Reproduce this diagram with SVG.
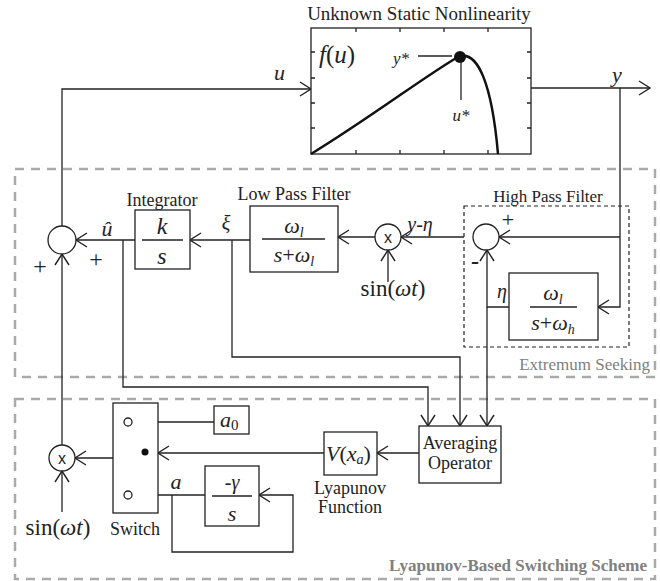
<svg xmlns="http://www.w3.org/2000/svg" width="660" height="581" viewBox="0 0 660 581">
<style>
.ln{fill:none;stroke:#222;stroke-width:1.3}
.ar{fill:none;stroke:#222;stroke-width:1.3}
.ah{fill:none;stroke:#222;stroke-width:1.4}
.bx{fill:#fff;stroke:#222;stroke-width:1.3}
.gd{fill:none;stroke:#aaa;stroke-width:2.5;stroke-dasharray:9,7}
.kd{fill:none;stroke:#222;stroke-width:1.2;stroke-dasharray:4,3}
.t{font-family:"Liberation Serif",serif;fill:#222}
.i{font-style:italic}
.m{text-anchor:middle}
</style>

<g id="regions">
<rect class="gd" x="15" y="169" width="640" height="208"/>
<text class="t" x="650" y="370" text-anchor="end" font-size="17" style="fill:#808080">Extremum Seeking</text>
<rect class="gd" x="15" y="399" width="640" height="180"/>
<text class="t" x="647" y="571" text-anchor="end" font-size="17" font-weight="bold" style="fill:#808080">Lyapunov-Based Switching Scheme</text>
<rect class="kd" x="464" y="206" width="165" height="141"/>
<text class="t m" x="548" y="202" font-size="17">High Pass Filter</text>
</g>

<g id="connectors">
<polyline class="ar" points="62,226 62,89 311,89"/>
<polyline class="ar" points="531,88 650,88"/>
<polyline class="ar" points="620,88 620,307 598,307"/>
<polyline class="ar" points="620,237 499,237"/>
<line class="ar" x1="464" y1="237" x2="401" y2="237"/>
<line class="ar" x1="375" y1="237" x2="338" y2="237"/>
<line class="ar" x1="388" y1="282" x2="388" y2="250"/>
<line class="ar" x1="250" y1="240" x2="190" y2="240"/>
<line class="ar" x1="135" y1="240" x2="76" y2="240"/>
<polyline class="ar" points="509,307 487,307 487,250"/>
<line class="ar" x1="487" y1="307" x2="487" y2="426"/>
<polyline class="ar" points="232,240 232,357 460,357 460,426"/>
<polyline class="ar" points="123,240 123,387 428,387 428,426"/>
<line class="ar" x1="62" y1="445" x2="62" y2="254"/>
<line class="ar" x1="62" y1="512" x2="62" y2="471"/>
<line class="ar" x1="419" y1="453" x2="377" y2="453"/>
<line class="ar" x1="324" y1="453" x2="158" y2="453"/>
<polyline class="ar" points="145,452 123,458 75,458"/>
<line class="ar" x1="214" y1="422" x2="132" y2="422"/>
<line class="ar" x1="205" y1="495" x2="132" y2="495"/>
<polyline class="ar" points="172,495 172,552 293,552 293,495 259,495"/>
<path class="ah" d="M300,82 L311,89 L300,96"/>
<path class="ah" d="M639,81 L650,88 L639,95"/>
<path class="ah" d="M609,300 L598,307 L609,314"/>
<path class="ah" d="M510,230 L499,237 L510,244"/>
<path class="ah" d="M412,230 L401,237 L412,244"/>
<path class="ah" d="M349,230 L338,237 L349,244"/>
<path class="ah" d="M381,261 L388,250 L395,261"/>
<path class="ah" d="M201,233 L190,240 L201,247"/>
<path class="ah" d="M87,233 L76,240 L87,247"/>
<path class="ah" d="M480,261 L487,250 L494,261"/>
<path class="ah" d="M480,415 L487,426 L494,415"/>
<path class="ah" d="M453,415 L460,426 L467,415"/>
<path class="ah" d="M421,415 L428,426 L435,415"/>
<path class="ah" d="M55,265 L62,254 L69,265"/>
<path class="ah" d="M55,482 L62,471 L69,482"/>
<path class="ah" d="M388,446 L377,453 L388,460"/>
<path class="ah" d="M169,446 L158,453 L169,460"/>
<path class="ah" d="M86,451 L75,458 L86,465"/>
<path class="ah" d="M143,415 L132,422 L143,429"/>
<path class="ah" d="M143,488 L132,495 L143,502"/>
<path class="ah" d="M270,488 L259,495 L270,502"/>
</g>

<g id="nonlinearity">
<text class="t m" x="419" y="20" font-size="19">Unknown Static Nonlinearity</text>
<rect class="bx" x="311" y="28" width="220" height="126"/>
<path class="ln" d="M356,28v4M400,28v4M444,28v4M488,28v4M356,154v-4M400,154v-4M444,154v-4M488,154v-4M311,52h4M311,78h4M311,103h4M311,128h4M531,52h-4M531,78h-4M531,103h-4M531,128h-4"/>
<path d="M311,154 C370,118 425,76 458,57 C478,49 492,85 498,154" fill="none" stroke="#111" stroke-width="2.5"/>
<circle cx="460" cy="57" r="6" fill="#111"/>
<line class="ln" x1="418" y1="56" x2="452" y2="56"/>
<line class="ln" x1="461" y1="62" x2="461" y2="100"/>
<text class="t" x="319" y="63" font-size="25"><tspan class="i">f</tspan>(<tspan class="i">u</tspan>)</text>
<text class="t i" x="393" y="64" font-size="17">y*</text>
<text class="t i m" x="461" y="121" font-size="17">u*</text>
<text class="t i" x="274" y="80" font-size="22">u</text>
<text class="t i" x="612" y="82" font-size="22">y</text>
</g>

<g id="sum1">
<circle class="bx" cx="62" cy="240" r="14"/>
<text class="t m" x="40" y="274" font-size="24">+</text>
<text class="t m" x="96" y="267" font-size="24">+</text>
<text class="t i m" x="107" y="236" font-size="22">û</text>
</g>

<g id="integrator">
<text class="t m" x="162" y="206" font-size="18">Integrator</text>
<rect class="bx" x="135" y="210" width="55" height="59"/>
<text class="t i m" x="162" y="234" font-size="24">k</text>
<line class="ln" x1="142" y1="240" x2="183" y2="240"/>
<text class="t i m" x="162" y="264" font-size="24">s</text>
<text class="t i m" x="226" y="230" font-size="20">ξ</text>
</g>

<g id="lpf">
<text class="t m" x="294" y="200" font-size="18">Low Pass Filter</text>
<rect class="bx" x="250" y="206" width="88" height="66"/>
<text class="t i m" x="294" y="233" font-size="22">ω<tspan font-size="14" dy="4">l</tspan></text>
<line class="ln" x1="262" y1="239" x2="325" y2="239"/>
<text class="t i m" x="294" y="262" font-size="22">s<tspan font-style="normal">+</tspan>ω<tspan font-size="14" dy="4">l</tspan></text>
</g>

<g id="mult1">
<circle class="bx" cx="388" cy="237" r="13"/>
<text class="m" x="388" y="243" font-family="Liberation Sans,sans-serif" font-size="16" fill="#222">x</text>
<text class="t m" x="393" y="296" font-size="23">sin(<tspan class="i">ωt</tspan>)</text>
<text class="t i m" x="420" y="231" font-size="20">y-η</text>
</g>

<g id="sum2">
<circle class="bx" cx="486" cy="237" r="13"/>
<text class="t m" x="508" y="227" font-size="22">+</text>
<text class="t m" x="475" y="269" font-size="24" font-weight="bold">-</text>
<text class="t i m" x="502" y="298" font-size="20">η</text>
</g>

<g id="hpf">
<rect class="bx" x="509" y="273" width="89" height="67"/>
<text class="t i m" x="553" y="300" font-size="22">ω<tspan font-size="14" dy="4">l</tspan></text>
<line class="ln" x1="530" y1="307" x2="577" y2="307"/>
<text class="t i m" x="553" y="330" font-size="22">s<tspan font-style="normal">+</tspan>ω<tspan font-size="14" dy="4">h</tspan></text>
</g>

<g id="mult2">
<circle class="bx" cx="62" cy="458" r="13"/>
<text class="m" x="62" y="464" font-family="Liberation Sans,sans-serif" font-size="16" fill="#222">x</text>
<text class="t m" x="58" y="535" font-size="23">sin(<tspan class="i">ωt</tspan>)</text>
</g>

<g id="switch">
<rect class="bx" x="113" y="403" width="45" height="110"/>
<circle cx="128" cy="422" r="4" fill="#fff" stroke="#222" stroke-width="1.3"/>
<circle cx="145" cy="452" r="3.5" fill="#111"/>
<circle cx="128" cy="495" r="4" fill="#fff" stroke="#222" stroke-width="1.3"/>
<text class="t m" x="135" y="535" font-size="18">Switch</text>
</g>

<g id="a0">
<rect class="bx" x="214" y="406" width="35" height="28"/>
<text class="t i" x="220" y="427" font-size="22">a<tspan font-style="normal" font-size="15" dy="3">0</tspan></text>
</g>

<g id="integ2">
<rect class="bx" x="205" y="466" width="54" height="60"/>
<text class="t i m" x="232" y="489" font-size="20">-γ</text>
<line class="ln" x1="212" y1="496" x2="252" y2="496"/>
<text class="t i m" x="232" y="521" font-size="22">s</text>
<text class="t i m" x="176" y="489" font-size="22">a</text>
</g>

<g id="lyap">
<rect class="bx" x="324" y="432" width="53" height="43"/>
<text class="t i" x="326" y="461" font-size="22">V<tspan font-style="normal">(</tspan>x<tspan font-size="14" dy="3">a</tspan><tspan font-style="normal" dy="-3">)</tspan></text>
<text class="t m" x="350" y="494" font-size="18">Lyapunov</text>
<text class="t m" x="350" y="513" font-size="18">Function</text>
</g>

<g id="avg">
<rect class="bx" x="419" y="426" width="82" height="57"/>
<text class="t m" x="460" y="449" font-size="18">Averaging</text>
<text class="t m" x="460" y="469" font-size="18">Operator</text>
</g>
</svg>
